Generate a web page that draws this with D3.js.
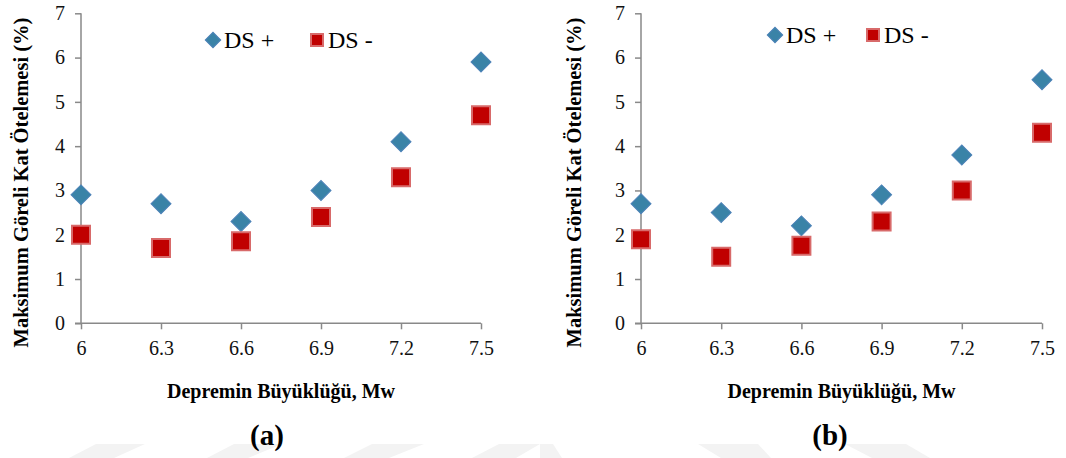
<!DOCTYPE html>
<html><head><meta charset="utf-8">
<script src="https://cdn.jsdelivr.net/npm/d3@7"></script>
<style>body{margin:0;background:#fff}svg{display:block}svg text{font-family:"Liberation Serif",serif}</style>
</head><body>
<svg id="chart" width="1066" height="458" font-family="Liberation Serif"></svg>
<script>
const magnitudes = [6, 6.3, 6.6, 6.9, 7.2, 7.5];
const xTickLabels = ["6", "6.3", "6.6", "6.9", "7.2", "7.5"];
const yTicks = [0, 1, 2, 3, 4, 5, 6, 7];
const seriesNames = ["DS +", "DS -"];
const dsPlusA = [2.9, 2.7, 2.3, 3.0, 4.1, 5.9];
const dsMinusA = [2.0, 1.7, 1.85, 2.4, 3.3, 4.7];
const dsPlusB = [2.7, 2.5, 2.2, 2.9, 3.8, 5.5];
const dsMinusB = [1.9, 1.5, 1.75, 2.3, 3.0, 4.3];
const panelLabels = ["(a)", "(b)"];
const xTitle = "Depremin Büyüklüğü, Mw";
const yTitle = "Maksimum Göreli Kat Ötelemesi (%)";

const svg = d3.select("#chart");
const FONT = "Liberation Serif";
const axisColor = "#898989";

// faint watermark shapes at the bottom
const wm = [
  [[96,444],[145,444],[114,458],[69,458]],
  [[234,444],[282,444],[248,458],[207,458]],
  [[372,444],[424,444],[389,458],[344,458]],
  [[499,444],[540,444],[516,458],[472,458]],
  [[540,444],[553,444],[562,458],[540,458]],
  [[698,444],[758,444],[771,458],[721,458]],
  [[845,444],[906,444],[930,458],[872,458]]
];
svg.selectAll("polygon.wm").data(wm).join("polygon")
  .attr("points", d => d.map(p => p.join(",")).join(" "))
  .attr("fill", "#f3f3f3");

const panels = [
  {plus: dsPlusA, minus: dsMinusA, left: 81, right: 481, yTitleX: 21, legY: 40, legD: 213, legS: 317, label: panelLabels[0], labelX: 267},
  {plus: dsPlusB, minus: dsMinusB, left: 641, right: 1042, yTitleX: 574, legY: 35, legD: 775, legS: 873, label: panelLabels[1], labelX: 830}
];
const plotTop = 13.3, plotBottom = 323.3;

panels.forEach(p => {
  const g = svg.append("g");
  const x = d3.scaleLinear().domain([magnitudes[0], magnitudes[magnitudes.length-1]]).range([p.left, p.right]);
  const y = d3.scaleLinear().domain([0, 7]).range([plotBottom, plotTop]);

  const ya = g.append("g").attr("transform", `translate(${p.left},0)`)
    .call(d3.axisLeft(y).tickValues(yTicks).tickSize(6).tickPadding(10).tickFormat(d3.format("d")));
  const xa = g.append("g").attr("transform", `translate(0,${plotBottom})`)
    .call(d3.axisBottom(x).tickValues(magnitudes).tickSize(6).tickPadding(12).tickFormat((d, i) => xTickLabels[i]));
  [ya, xa].forEach(a => {
    a.attr("font-family", FONT).attr("font-size", 20);
    a.select(".domain").attr("stroke", axisColor).attr("stroke-width", 1.5);
    a.selectAll(".tick line").attr("stroke", axisColor).attr("stroke-width", 1.5);
    a.selectAll(".tick text").attr("fill", "#111").attr("font-family", FONT).attr("font-size", 20);
  });
  xa.select(".domain").attr("d", `M${p.left - 6},0H${p.right}`);
  ya.select(".domain").attr("d", `M0,${plotTop}V${plotBottom}`);

  // markers
  g.selectAll("path.plus").data(p.plus).join("path")
    .attr("d", d3.symbol().type(d3.symbolSquare).size(200)())
    .attr("transform", (d, i) => `translate(${x(magnitudes[i])},${y(d)}) rotate(45)`)
    .attr("fill", "#3a83a7").attr("stroke", "#4d82b8").attr("stroke-width", 1);
  g.selectAll("path.minus").data(p.minus).join("path")
    .attr("d", d3.symbol().type(d3.symbolSquare).size(324)())
    .attr("transform", (d, i) => `translate(${x(magnitudes[i])},${y(d)})`)
    .attr("fill", "#c00000").attr("stroke", "#d86a6a").attr("stroke-width", 2);

  // legend
  g.append("path").attr("d", d3.symbol().type(d3.symbolSquare).size(120)())
    .attr("transform", `translate(${p.legD},${p.legY}) rotate(45)`)
    .attr("fill", "#3a83a7").attr("stroke", "#4d82b8").attr("stroke-width", 1);
  g.append("text").attr("x", p.legD + 11).attr("y", p.legY + 8)
    .attr("font-family", FONT).attr("font-size", 24).attr("fill", "#000").text(seriesNames[0]);
  g.append("path").attr("d", d3.symbol().type(d3.symbolSquare).size(144)())
    .attr("transform", `translate(${p.legS},${p.legY})`)
    .attr("fill", "#c00000").attr("stroke", "#d86a6a").attr("stroke-width", 2);
  g.append("text").attr("x", p.legS + 11).attr("y", p.legY + 8)
    .attr("font-family", FONT).attr("font-size", 24).attr("fill", "#000").text(seriesNames[1]);

  // titles
  g.append("text").attr("transform", `translate(${p.yTitleX},${(12 + 353) / 2}) rotate(-90)`)
    .attr("text-anchor", "middle").attr("dy", "0.35em")
    .attr("font-family", FONT).attr("font-size", 20.5).attr("font-weight", "bold")
    .text(yTitle);
  g.append("text").attr("x", (p.left + p.right) / 2).attr("y", 398)
    .attr("text-anchor", "middle")
    .attr("font-family", FONT).attr("font-size", 20).attr("font-weight", "bold")
    .text(xTitle);
  g.append("text").attr("x", p.labelX).attr("y", 445)
    .attr("text-anchor", "middle")
    .attr("font-family", FONT).attr("font-size", 29).attr("font-weight", "bold")
    .text(p.label);
});
</script>
</body></html>
